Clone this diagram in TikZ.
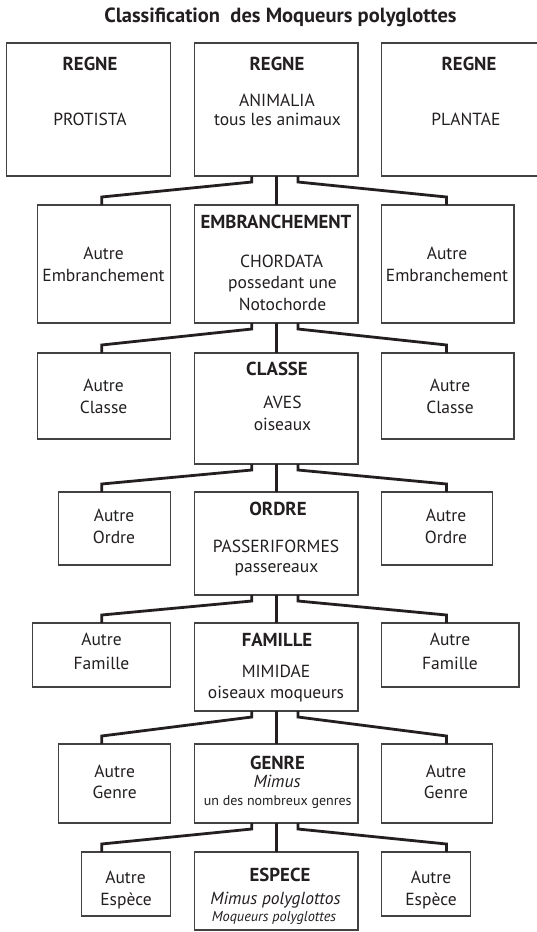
\documentclass[tikz,border=0pt]{standalone}
\usepackage{fontspec}
\setmainfont{PT Sans}
\usetikzlibrary{calc}
\definecolor{ink}{HTML}{231F20}
\tikzset{
  box/.style={draw=ink!85, line width=1.1pt, inner sep=0pt, outer sep=0pt, rectangle},
  conn/.style={draw=ink, line width=2.8pt, line join=miter},
  lbl/.style={anchor=base, inner sep=0pt, text=ink, font=\fontsize{17.5}{21}\selectfont},
  hd/.style={lbl, font=\fontsize{18.8}{22}\selectfont\bfseries},
  ttl/.style={lbl, font=\fontsize{20.5}{24}\selectfont\bfseries},
  sm/.style={lbl, font=\fontsize{14}{17}\selectfont},
  smit/.style={lbl, font=\fontsize{14.3}{17}\selectfont\itshape},
  it/.style={lbl, font=\fontsize{17.5}{21}\selectfont\itshape},
}
\newcommand{\mkbox}[5]{\node[box, anchor=north west, minimum width={(#4)-(#2)}, minimum height={(#5)-(#3)}] (#1) at (#2,#3) {};}
\newcommand{\mkbranch}[4]{%
  \draw[conn] (#1.south) -- (#3.north);
  \draw[conn] ($(#1.south)+(-24.5,0)$) -- ++(0,6) -- ($(#2.north -| xL)+(0,-8)$) -- (#2.north -| xL);
  \draw[conn] ($(#1.south)+(21.7,0)$) -- ++(0,6) -- ($(#4.north -| xR)+(0,-8)$) -- (#4.north -| xR);
}
\begin{document}
\begin{tikzpicture}[x=1pt,y=-1pt]
\useasboundingbox (0,0) rectangle (537,932);
\fill[white] (0,0) rectangle (537,932);
\coordinate (xL) at (101.7,0);
\coordinate (xR) at (446.5,0);

% boxes
\mkbox{L1}{6.8}{43}{170.2}{176}
\mkbox{C1}{194.5}{43}{358}{176}
\mkbox{R1}{381.2}{43}{560}{176}
\mkbox{L2}{37.7}{205}{170.2}{323}
\mkbox{C2}{194.5}{205}{358}{323}
\mkbox{R2}{381.2}{205}{514}{323}
\mkbox{L3}{37.7}{353}{170.2}{439}
\mkbox{C3}{194.5}{353}{358}{464}
\mkbox{R3}{381.2}{353}{514}{439}
\mkbox{L4}{58.9}{492}{170.2}{565}
\mkbox{C4}{194.5}{492}{358}{595}
\mkbox{R4}{381.2}{492}{492.8}{565}
\mkbox{L5}{32.5}{623}{170.2}{687}
\mkbox{C5}{194.5}{623}{358}{711}
\mkbox{R5}{381.2}{623}{519}{687}
\mkbox{L6}{58.9}{744}{170.2}{823}
\mkbox{C6}{194.5}{744}{358}{823}
\mkbox{R6}{381.2}{744}{492.8}{823}
\mkbox{L7}{81.7}{852}{170.2}{916}
\mkbox{C7}{194.5}{852}{358}{930}
\mkbox{R7}{381.2}{852}{470.2}{916}

% connectors
\mkbranch{C1}{L2}{C2}{R2}
\mkbranch{C2}{L3}{C3}{R3}
\mkbranch{C3}{L4}{C4}{R4}
\mkbranch{C4}{L5}{C5}{R5}
\mkbranch{C5}{L6}{C6}{R6}
\mkbranch{C6}{L7}{C7}{R7}

% title
\node[ttl] (title) at (280.5,22.3) {Classification~ des Moqueurs polyglottes};

% row 1
\node[hd] (t1a) at (90,70.2) {REGNE};
\node[lbl] (t1b) at (90,125.7) {PROTISTA};
\node[hd] (t1c) at (277,70.2) {REGNE};
\node[lbl] (t1d) at (277,106) {ANIMALIA};
\node[lbl] (t1e) at (277.5,125.7) {tous les animaux};
\node[hd] (t1f) at (469,70.2) {REGNE};
\node[lbl] (t1g) at (466,125.7) {PLANTAE};

% row 2
\node[lbl] (t2a) at (103.5,259.7) {Autre};
\node[lbl] (t2b) at (103.5,281.3) {Embranchement};
\node[hd] (t2c) at (276,228.9) {EMBRANCHEMENT};
\node[lbl] (t2d) at (281.5,267.6) {CHORDATA};
\node[lbl] (t2e) at (282.5,288.5) {possedant une};
\node[lbl] (t2f) at (282.5,310.4) {Notochorde};
\node[lbl] (t2g) at (447,259.7) {Autre};
\node[lbl] (t2h) at (447,281.3) {Embranchement};

% row 3
\node[lbl] (t3a) at (103.6,391.2) {Autre};
\node[lbl] (t3b) at (103.6,413.2) {Classe};
\node[hd] (t3c) at (277,375.5) {CLASSE};
\node[lbl] (t3d) at (282.5,408.4) {AVES};
\node[lbl] (t3e) at (282.5,430.3) {oiseaux};
\node[lbl] (t3f) at (450,391.2) {Autre};
\node[lbl] (t3g) at (450,413.2) {Classe};

% row 4
\node[lbl] (t4a) at (114,521.4) {Autre};
\node[lbl] (t4b) at (114,543.6) {Ordre};
\node[hd] (t4c) at (278,515.5) {ORDRE};
\node[lbl] (t4d) at (276,552.2) {PASSERIFORMES};
\node[lbl] (t4e) at (276.5,572.7) {passereaux};
\node[lbl] (t4f) at (446,521.4) {Autre};
\node[lbl] (t4g) at (446,543.6) {Ordre};

% row 5
\node[lbl] (t5a) at (101.5,645.7) {Autre};
\node[lbl] (t5b) at (101.5,669) {Famille};
\node[hd] (t5c) at (277,646.4) {FAMILLE};
\node[lbl] (t5d) at (276,677.2) {MIMIDAE};
\node[lbl] (t5e) at (276,698.8) {oiseaux moqueurs};
\node[lbl] (t5f) at (450,645.7) {Autre};
\node[lbl] (t5g) at (450,669) {Famille};

% row 6
\node[lbl] (t6a) at (114.7,777) {Autre};
\node[lbl] (t6b) at (114.7,798.5) {Genre};
\node[hd] (t6c) at (277.5,769) {GENRE};
\node[it] (t6d) at (277,787) {Mimus};
\node[sm] (t6e) at (277.7,805) {un des nombreux genres};
\node[lbl] (t6f) at (446,777) {Autre};
\node[lbl] (t6g) at (446,798.5) {Genre};

% row 7
\node[lbl] (t7a) at (125.5,883) {Autre};
\node[lbl] (t7b) at (126,905) {Espèce};
\node[hd] (t7c) at (280,881) {ESPECE};
\node[it] (t7d) at (275.5,904) {Mimus polyglottos};
\node[smit] (t7e) at (274,921) {Moqueurs polyglottes};
\node[lbl] (t7f) at (431,883) {Autre};
\node[lbl] (t7g) at (431,905) {Espèce};
\end{tikzpicture}
\end{document}
